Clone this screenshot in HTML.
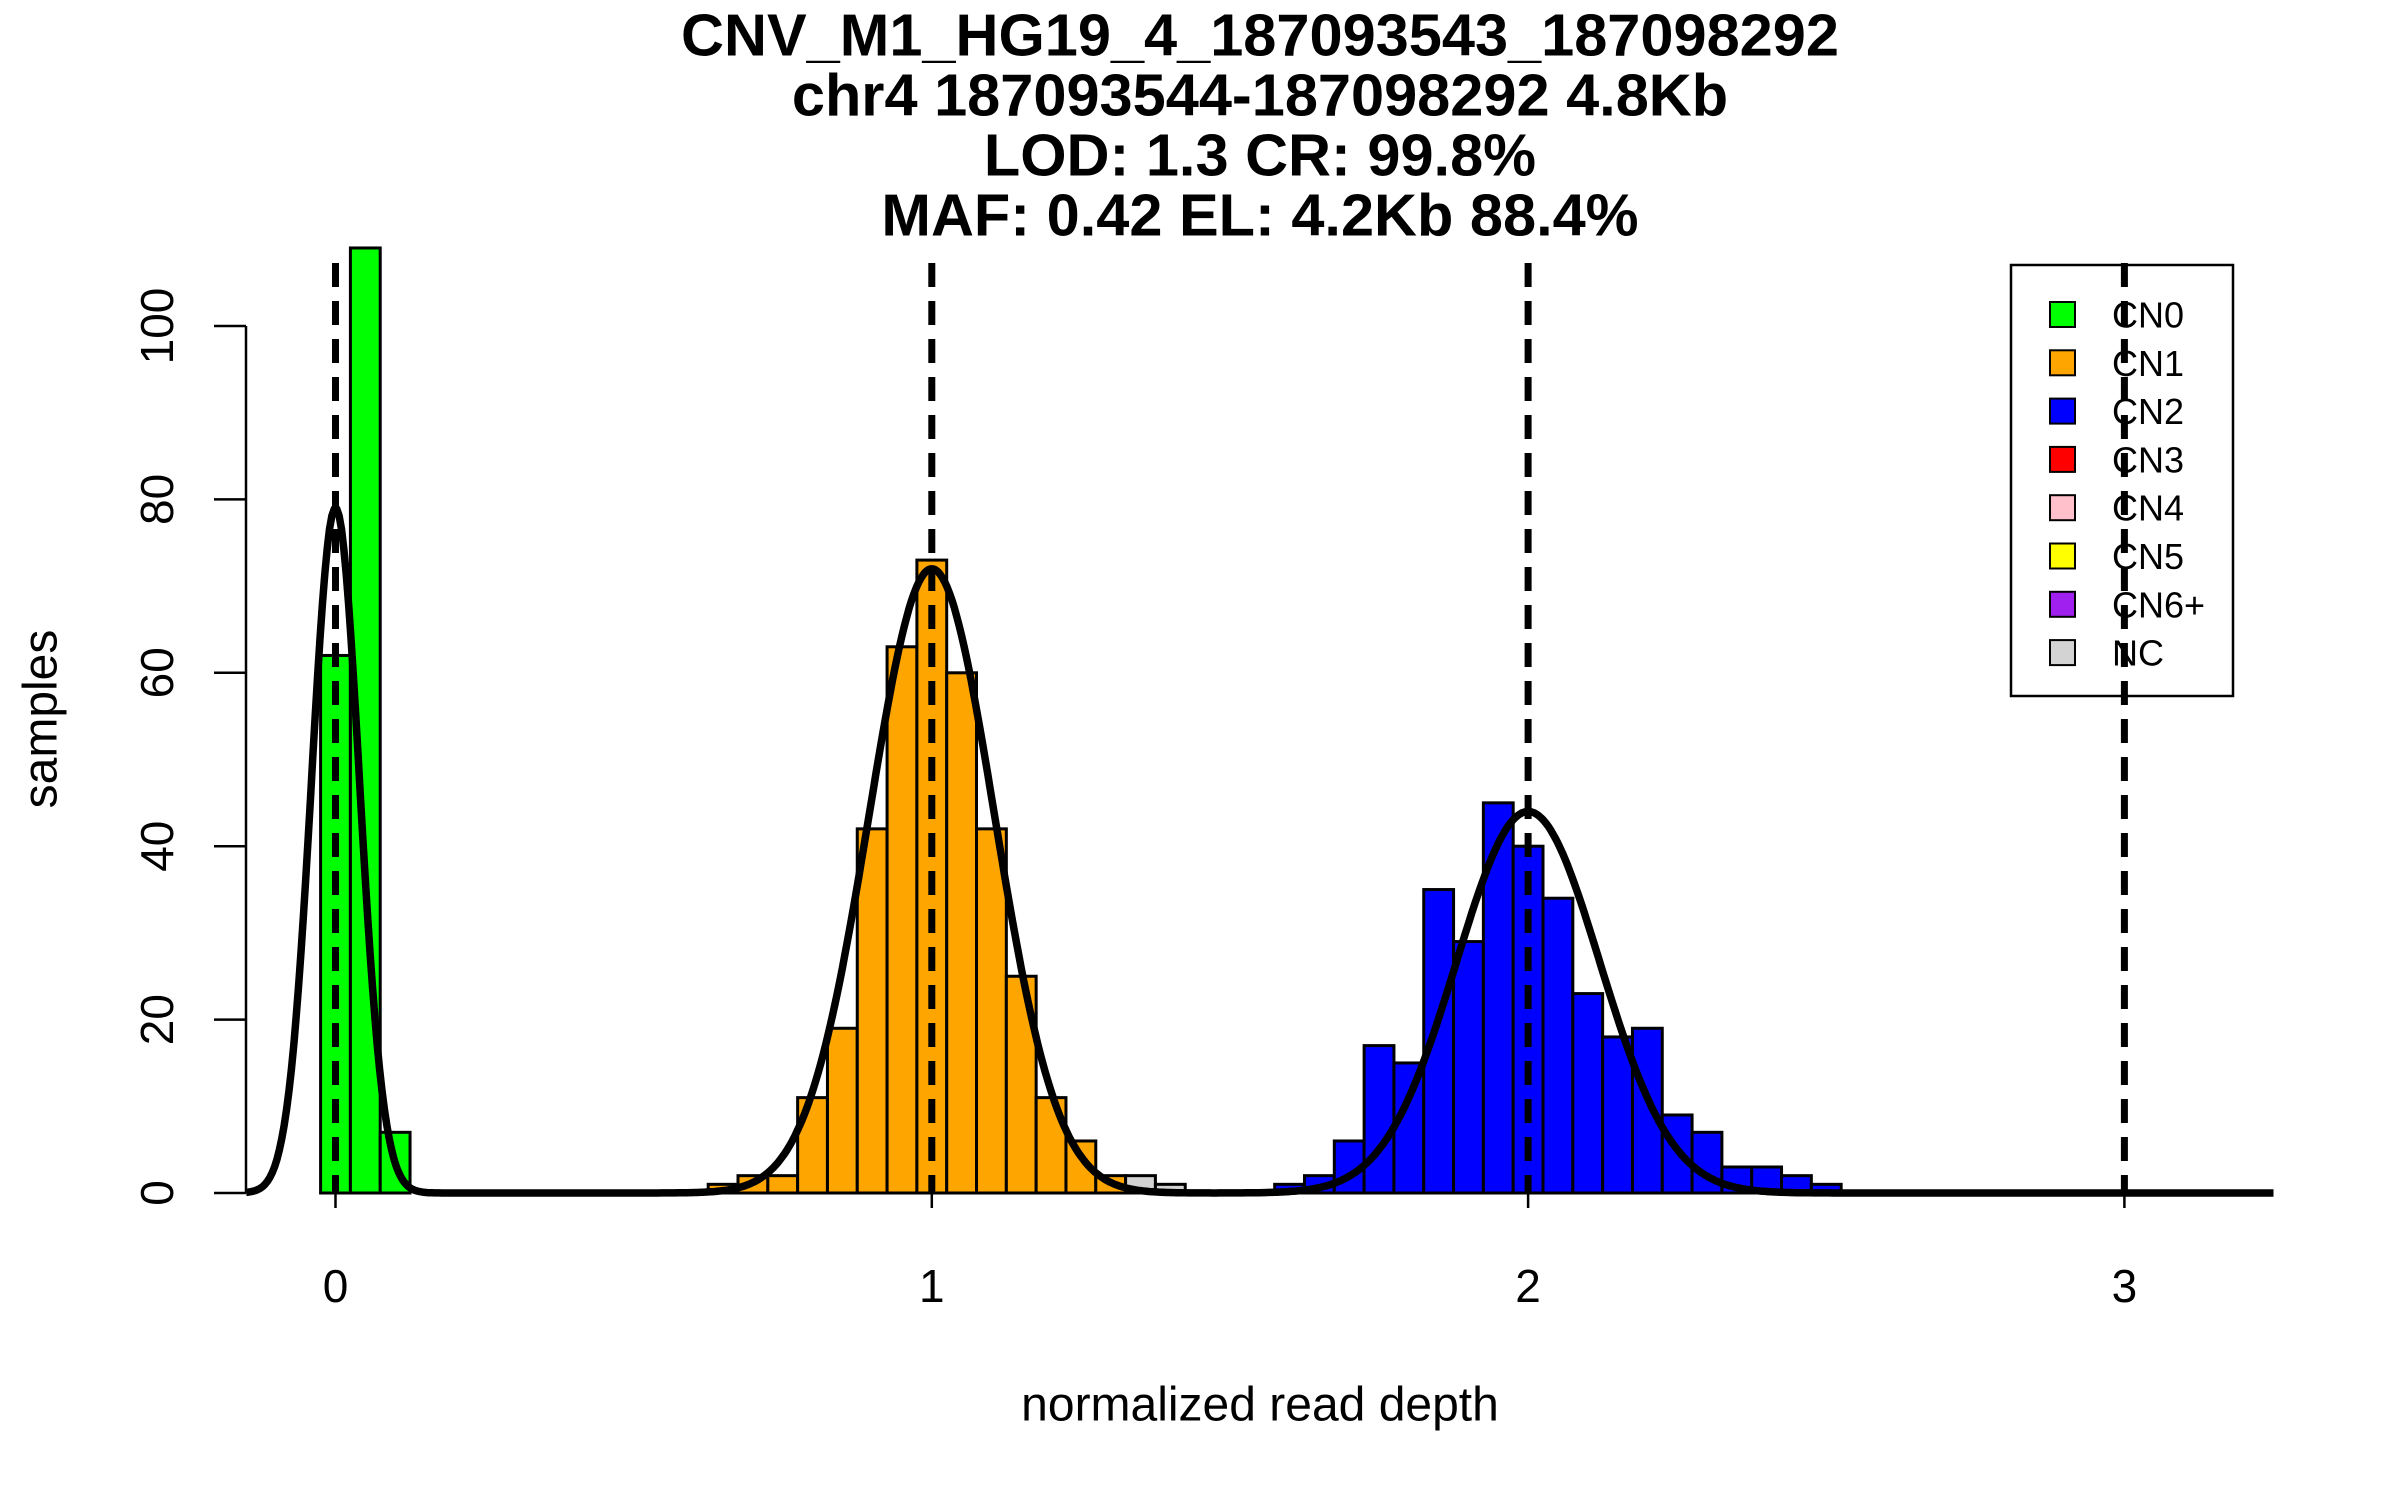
<!DOCTYPE html>
<html><head><meta charset="utf-8"><style>
html,body{margin:0;padding:0;background:#fff}
svg{display:block}
text{font-family:"Liberation Sans",Arial,sans-serif}
</style></head><body>
<svg id="chart" width="2400" height="1500" viewBox="0 0 2400 1500" xmlns="http://www.w3.org/2000/svg">
<g font-weight="bold" font-size="59.5" text-anchor="middle">
<text x="1260" y="35" dominant-baseline="central">CNV_M1_HG19_4_187093543_187098292</text>
<text x="1260" y="95" dominant-baseline="central">chr4 187093544-187098292 4.8Kb</text>
<text x="1260" y="155" dominant-baseline="central">LOD: 1.3 CR: 99.8%</text>
<text x="1260" y="215" dominant-baseline="central">MAF: 0.42 EL: 4.2Kb 88.4%</text>
</g>
<g id="bars"></g>
<g id="curve"></g>
<g id="axes"></g>
<text x="1260" y="1405" font-size="48" text-anchor="middle" dominant-baseline="central">normalized read depth</text>
<text x="41" y="719" font-size="48" text-anchor="middle" dominant-baseline="central" transform="rotate(-90 41 719)">samples</text>
<g id="legend"></g>
<g id="vlines"></g>
</svg>
<script>
const cn0Centers = [0.00, 0.05, 0.10];
const cn0Counts = [62, 109, 7];
const cn1Centers = [0.65,0.70,0.75,0.80,0.85,0.90,0.95,1.00,1.05,1.10,1.15,1.20,1.25,1.30];
const cn1Counts = [1,2,2,11,19,42,63,73,60,42,25,11,6,2];
const cn2Centers = [1.60,1.65,1.70,1.75,1.80,1.85,1.90,1.95,2.00,2.05,2.10,2.15,2.20,2.25,2.30,2.35,2.40,2.45,2.50];
const cn2Counts = [1,2,6,17,15,35,29,45,40,34,23,18,19,9,7,3,3,2,1];
const ncCenters = [1.35, 1.40];
const ncCounts = [2, 1];
const binWidth = 0.05;
const fitMeans = [0, 1, 2];
const fitPeaks = [79, 72, 44];
const fitSds = [0.04, 0.105, 0.12];
const xTicks = [0, 1, 2, 3];
const yTicks = [0, 20, 40, 60, 80, 100];
const legendLabels = ["CN0","CN1","CN2","CN3","CN4","CN5","CN6+","NC"];
const legendColors = ["#00ff00","#ffa500","#0000ff","#ff0000","#ffc0cb","#ffff00","#a020f0","#d3d3d3"];

const NS = "http://www.w3.org/2000/svg";
const X0 = 335.5, XU = 596.3, Y0 = 1193, YU = 8.67;
const sx = v => X0 + v * XU;
const sy = v => Y0 - v * YU;
function mk(tag, attrs, parent) {
  const e = document.createElementNS(NS, tag);
  for (const k in attrs) e.setAttribute(k, attrs[k]);
  parent.appendChild(e);
  return e;
}
const barsG = document.getElementById('bars');
function drawHist(centers, counts, color, name) {
  centers.forEach((c, i) => {
    const r = mk('rect', {x: sx(c - binWidth/2), y: sy(counts[i]), width: binWidth*XU, height: counts[i]*YU, fill: color, stroke: '#000', 'stroke-width': 3}, barsG);
    
    
  });
}
drawHist(cn0Centers, cn0Counts, '#00ff00', 'cn0');
drawHist(cn1Centers, cn1Counts, '#ffa500', 'cn1');
drawHist(cn2Centers, cn2Counts, '#0000ff', 'cn2');
drawHist(ncCenters, ncCounts, '#d3d3d3', 'nc');

const curveG = document.getElementById('curve');
let d = '';
for (let v = -0.15; v <= 3.25001; v += 0.004) {
  let y = 0;
  for (let k = 0; k < fitMeans.length; k++) y += fitPeaks[k] * Math.exp(-Math.pow(v - fitMeans[k], 2) / (2 * fitSds[k] * fitSds[k]));
  d += (d ? 'L' : 'M') + sx(v).toFixed(1) + ',' + sy(y).toFixed(1);
}
const cp = mk('path', {d: d, fill: 'none', stroke: '#000', 'stroke-width': 7.5, 'stroke-linejoin': 'round'}, curveG);



const vG = document.getElementById('vlines');
xTicks.forEach(t => {
  const l = mk('line', {x1: sx(t), x2: sx(t), y1: 263, y2: Y0, stroke: '#000', 'stroke-width': 7, 'stroke-dasharray': '24,14'}, vG);
  
  
});

const aG = document.getElementById('axes');
const ya = mk('line', {x1: 246, x2: 246, y1: sy(0), y2: sy(100), stroke: '#000', 'stroke-width': 2.5}, aG);


yTicks.forEach(t => {
  const tl = mk('line', {x1: 214, x2: 246, y1: sy(t), y2: sy(t), stroke: '#000', 'stroke-width': 2.5}, aG);
  
  
  const tx = mk('text', {x: 157, y: sy(t), 'font-size': 46, 'text-anchor': 'middle', 'dominant-baseline': 'central', transform: 'rotate(-90 157 ' + sy(t) + ')'}, aG);
  tx.textContent = t;
  
  
});
xTicks.forEach(t => {
  const tl = mk('line', {x1: sx(t), x2: sx(t), y1: Y0, y2: 1208, stroke: '#000', 'stroke-width': 2.5}, aG);
  
  
  const tx = mk('text', {x: sx(t), y: 1286, 'font-size': 46, 'text-anchor': 'middle', 'dominant-baseline': 'central'}, aG);
  tx.textContent = t;
  
  
});

const lG = document.getElementById('legend');
const lb = mk('rect', {x: 2011, y: 265, width: 222, height: 431, fill: 'none', stroke: '#000', 'stroke-width': 2.5}, lG);


legendLabels.forEach((lab, i) => {
  const cy = 314 + i * 48.3;
  const sq = mk('rect', {x: 2050, y: cy - 12, width: 25, height: 25, fill: legendColors[i], stroke: '#000', 'stroke-width': 2}, lG);
  
  
  const tx = mk('text', {x: 2112, y: cy + 1, 'font-size': 36, 'dominant-baseline': 'central'}, lG);
  tx.textContent = lab;
  
  
});
</script>
</body></html>
